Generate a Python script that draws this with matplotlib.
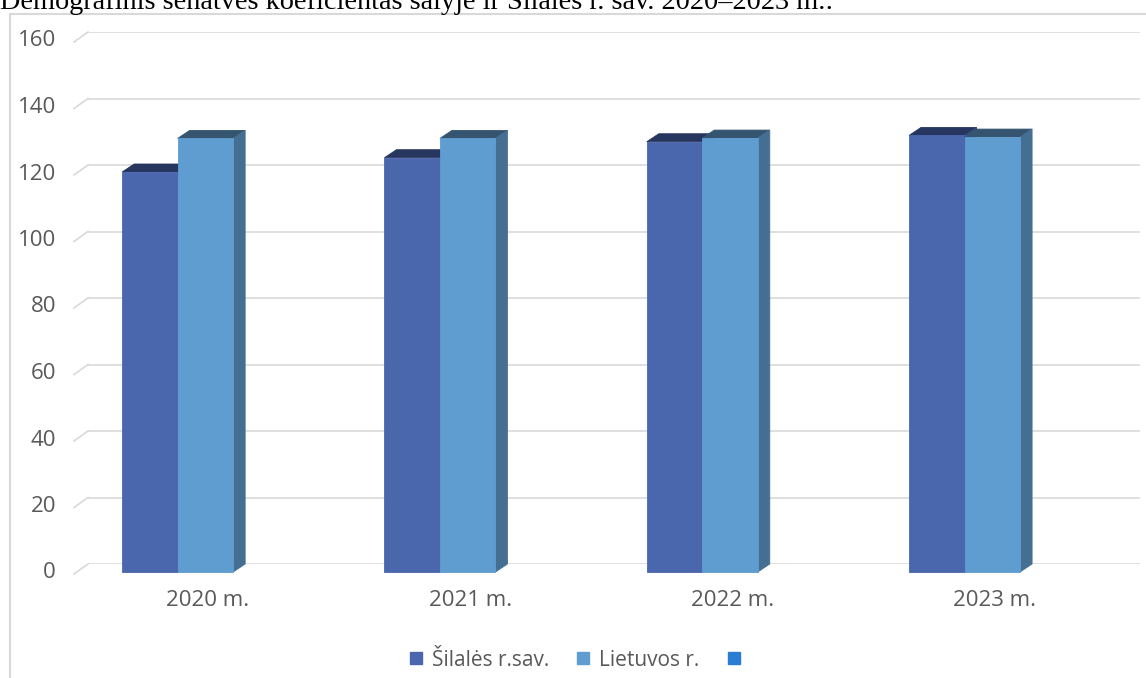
import matplotlib.pyplot as plt
from matplotlib.patches import Polygon, Rectangle
from matplotlib.lines import Line2D
from matplotlib.transforms import ScaledTranslation, IdentityTransform

# data
years = ['2020 m.', '2021 m.', '2022 m.', '2023 m.']
silale = [120.3, 124.6, 129.4, 131.3]
lietuva = [130.4, 130.4, 130.5, 130.8]
series_names = ['Šilalės r.sav.', 'Lietuvos r.', '']
yticks = [0, 20, 40, 60, 80, 100, 120, 140, 160]

title = 'Demografinis senatvės koeficientas šalyje ir Šilalės r. sav. 2020–2023 m.:'

# colours: front, top, side
cols = [('#4a66ad', '#27365f', '#34497c'),
        ('#5f9dd1', '#345470', '#456f92')]
third_col = '#2b7cd3'
grid_col = '#d9d9d9'
txt_col = '#595959'

W, H, DPI = 1146, 678, 100
fig = plt.figure(figsize=(W / DPI, H / DPI), dpi=DPI)
ax = fig.add_axes([88 / W, (H - 564) / H, 1052 / W, 532 / H])
ax.set_xlim(-0.4575, 3.553)
ax.set_ylim(0, 160)
ax.axis('off')

# 3D depth offset of the front plane (pixels)
dx, dy = 12, 8
front_off = ScaledTranslation(-dx / DPI, -dy / DPI, fig.dpi_scale_trans)

# back wall gridlines and floor stubs
for v in yticks:
    ax.axhline(v, color=grid_col, lw=1.2, zorder=0)
    x0, y0 = ax.transData.transform((ax.get_xlim()[0], v))
    fig.add_artist(Line2D([x0, x0 - 14], [y0, y0 - 10], color=grid_col, lw=1.2,
                          transform=IdentityTransform()))
    ax.text(-0.4575, v, str(v), transform=ax.transData + ScaledTranslation(-32 / DPI, -9 / DPI, fig.dpi_scale_trans),
            ha='right', va='center', fontsize=16, color=txt_col, family='Open Sans')

# category labels
for i, lab in enumerate(years):
    ax.text(i, 0, lab, transform=ax.transData + ScaledTranslation(0, -36 / DPI, fig.dpi_scale_trans),
            ha='center', va='center', fontsize=16, color=txt_col, family='Open Sans')

# bars
bw = 0.2116
shift = -0.07
z = 2
for i in range(len(years)):
    for j, vals in enumerate([silale, lietuva]):
        front, top, side = cols[j]
        xb = i + shift + (j - 0.5) * bw
        bars = ax.bar([xb], [vals[i]], width=bw, color=front, edgecolor=front,
                      lw=0.6, transform=ax.transData + front_off, clip_on=False, zorder=z + 1)
        r = bars[0]
        (fx0, fy0) = ax.transData.transform((r.get_x(), 0))
        (fx1, fy1) = ax.transData.transform((r.get_x() + r.get_width(), vals[i]))
        fx0 -= dx; fx1 -= dx; fy0 -= dy; fy1 -= dy
        top_poly = Polygon([(fx0, fy1), (fx1, fy1), (fx1 + dx, fy1 + dy), (fx0 + dx, fy1 + dy)],
                           closed=True, facecolor=top, edgecolor=top, lw=0.6,
                           transform=IdentityTransform(), clip_on=False, zorder=z)
        side_poly = Polygon([(fx1, fy1), (fx1, fy0), (fx1 + dx, fy0 + dy), (fx1 + dx, fy1 + dy)],
                            closed=True, facecolor=side, edgecolor=side, lw=0.6,
                            transform=IdentityTransform(), clip_on=False, zorder=z)
        ax.add_patch(top_poly)
        ax.add_patch(side_poly)
        z += 2

# legend
handles = [Line2D([], [], ls='none', marker='s', markersize=9, color=c)
           for c in [cols[0][0], cols[1][0], third_col]]
leg = fig.legend(handles, series_names, loc='center', bbox_to_anchor=(579 / W, 1 - 660 / H),
                 ncol=3, frameon=False, handlelength=0.7, handletextpad=0.4,
                 columnspacing=1.3, prop={'family': 'Open Sans', 'size': 15})
for t in leg.get_texts():
    t.set_color(txt_col)

# chart frame (partly outside the page)
fig.add_artist(Rectangle((10 / W, -0.1), 1.2, (H - 14) / H + 0.1, fill=False,
                         edgecolor=grid_col, lw=1.5, transform=fig.transFigure))

# title, cut at the top of the page
fig.text(0, 1 - 9 / H, title, ha='left', va='baseline', fontsize=20.3,
         family='Liberation Serif', color='black')

fig.savefig('out.png', dpi=DPI)
